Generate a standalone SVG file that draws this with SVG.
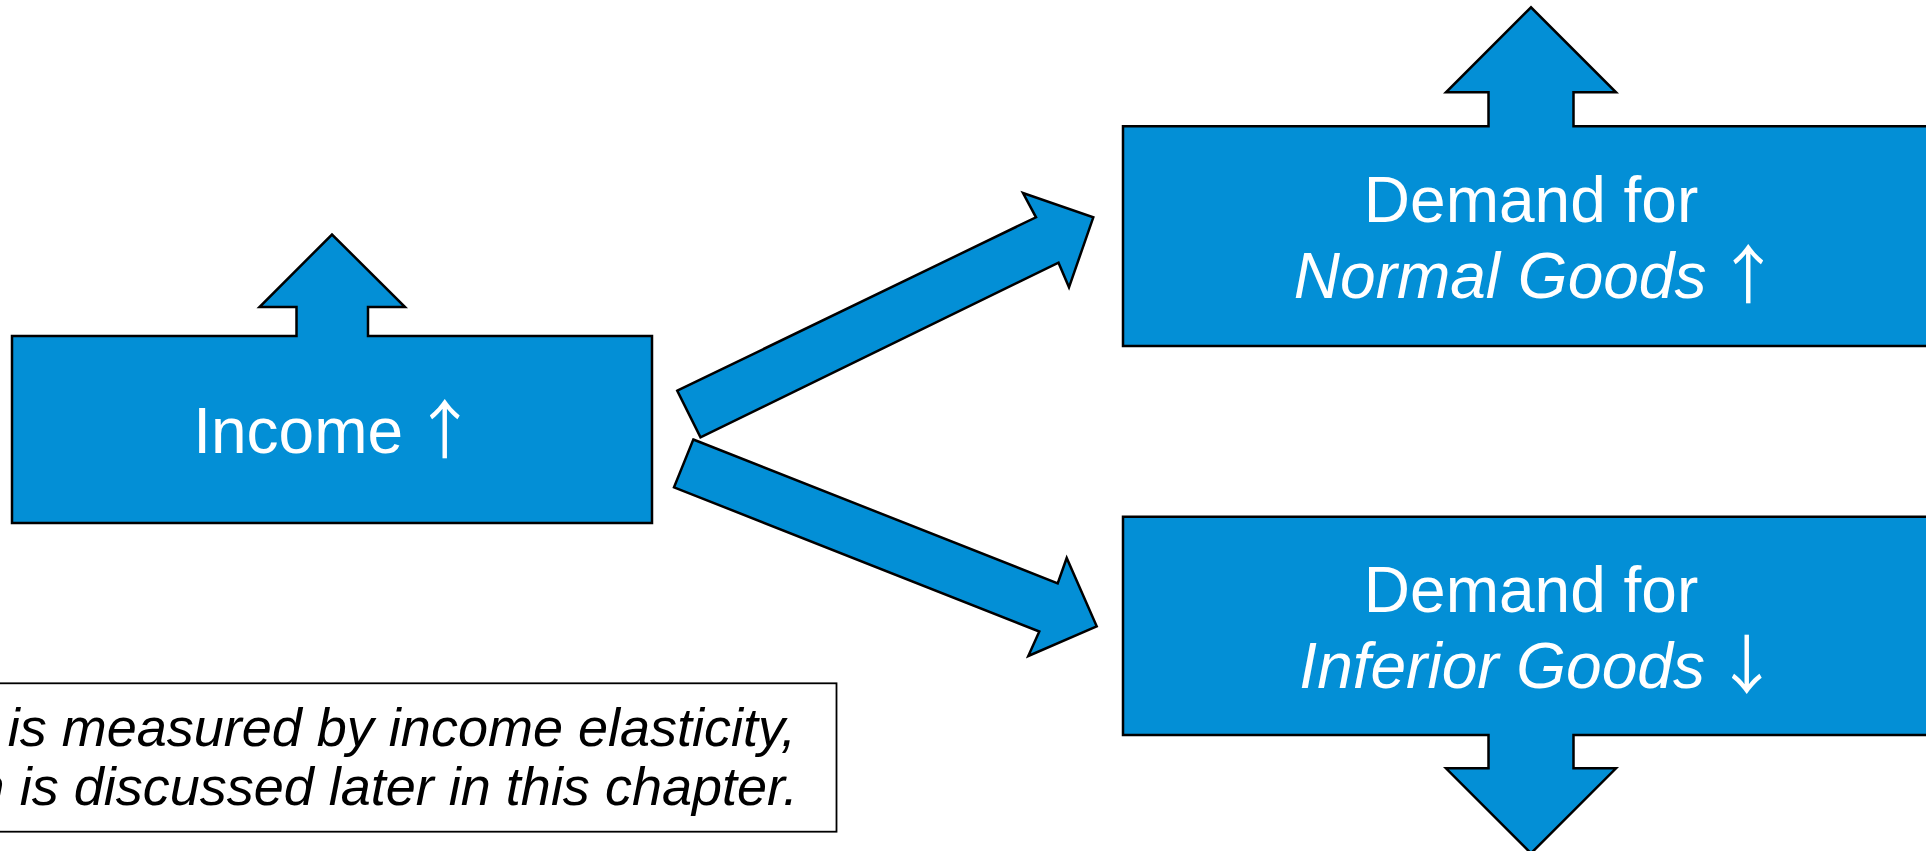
<svg xmlns="http://www.w3.org/2000/svg" width="1926" height="851" viewBox="0 0 1926 851">
<style>
.shape{fill:#038fd6;stroke:#000;stroke-width:2.5;stroke-linejoin:miter}
.lbl{font-family:"Liberation Sans",Arial,sans-serif;font-size:64px;fill:#fff;text-anchor:middle}
.it{font-style:italic}
.ar{font-family:"Noto Sans CJK JP","DejaVu Sans",sans-serif;font-style:normal}
.note{font-family:"Liberation Sans",Arial,sans-serif;font-size:54px;font-style:italic;fill:#000;text-anchor:end}
</style>
<rect width="1926" height="851" fill="#fff"/>
<g id="connectors">
<polygon class="shape" points="677.3,390.7 1036,217.3 1023,193 1093.3,217.3 1069,287.3 1058.5,262.7 700.5,437.3"/>
<polygon class="shape" points="693.3,439.5 1057.7,583.3 1066.7,558 1096.7,626.3 1028.3,656 1039.3,631.5 674,487.3"/>
</g>
<g id="income">
<polygon class="shape" points="12,336 296.5,336 296.5,307 259.5,307 332,234.5 405,307 368,307 368,336 652,336 652,523 12,523"/>
<text class="lbl" x="335" y="452.5">Income <tspan class="ar" dx="-8">↑</tspan></text>
</g>
<g id="normal">
<polygon class="shape" points="1123,126.3 1488.5,126.3 1488.5,92.3 1446,92.3 1531,7.3 1616,92.3 1573.5,92.3 1573.5,126.3 1940,126.3 1940,346 1123,346"/>
<text class="lbl" x="1531" y="221.7">Demand for</text>
<text class="lbl" x="1537" y="297.7"><tspan class="it">Normal Goods</tspan> <tspan class="ar" dx="-8">↑</tspan></text>
</g>
<g id="inferior">
<polygon class="shape" points="1123,516.7 1940,516.7 1940,735 1573.5,735 1573.5,768.3 1616,768.3 1531,853.3 1446,768.3 1488.5,768.3 1488.5,735 1123,735"/>
<text class="lbl" x="1531" y="611.7">Demand for</text>
<text class="lbl" x="1539" y="688.3"><tspan class="it">Inferior Goods</tspan> <tspan class="ar" dx="-8">↓</tspan></text>
</g>
<g id="note">
<rect x="-10" y="683.3" width="846.5" height="148.4" fill="#fff" stroke="#000" stroke-width="1.8"/>
<text class="note" x="796" y="745.7">is measured by income elasticity,</text>
<text class="note" x="798" y="805">n is discussed later in this chapter.</text>
</g>
</svg>
